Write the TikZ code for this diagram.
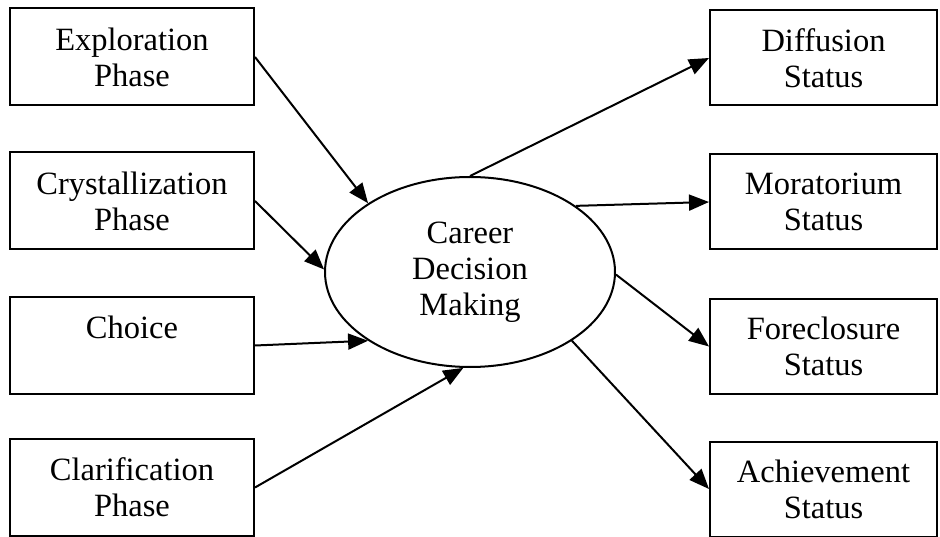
\documentclass[tikz,border=0pt]{standalone}
\usepackage{fontspec}
\setmainfont{Liberation Serif}
\usetikzlibrary{shapes.geometric,arrows.meta}
\begin{document}
\begin{tikzpicture}[x=1pt,y=-1pt,
  every node/.style={font=\fontsize{32.5pt}{36pt}\selectfont, align=center, inner sep=0pt},
  phasebox/.style={draw, line width=2pt, minimum width=244pt, minimum height=97pt},
  statusbox/.style={draw, line width=2pt, minimum width=227pt, minimum height=95pt},
  hub/.style={draw, ellipse, line width=2pt, minimum width=290pt, minimum height=190pt},
  arr/.style={line width=2pt, -{Triangle[length=20pt,width=16pt]}}]
\useasboundingbox (0,0) rectangle (940,537);

% inputs on the left
\node[phasebox] (expl)  at (132,57)    {Exploration\\Phase};
\node[phasebox] (cryst) at (132,201)   {Crystallization\\Phase};
\node[phasebox] (choice) at (132,345.5) {Choice\\\phantom{Phase}};
\node[phasebox] (clar)  at (132,487.5) {Clarification\\Phase};

% central construct
\node[hub] (cdm) at (470,272) {Career\\Decision\\Making};

% outcomes on the right
\node[statusbox] (diff) at (823.5,58)    {Diffusion\\Status};
\node[statusbox] (mora) at (823.5,202)   {Moratorium\\Status};
\node[statusbox] (fore) at (823.5,346.5) {Foreclosure\\Status};
\node[statusbox] (achi) at (823.5,489)   {Achievement\\Status};

% connectors
\draw[arr] (expl.east)   -- (cdm.146);
\draw[arr] (cryst.east)  -- (cdm.179);
\draw[arr] (choice.east) -- (cdm.214);
\draw[arr] (clar.east)   -- (cdm.266);

\draw[arr] (cdm.90)  -- (diff.west);
\draw[arr] (cdm.32)  -- (mora.west);
\draw[arr] (cdm.-1)  -- (fore.west);
\draw[arr] (cdm.-34) -- (achi.west);
\end{tikzpicture}
\end{document}
